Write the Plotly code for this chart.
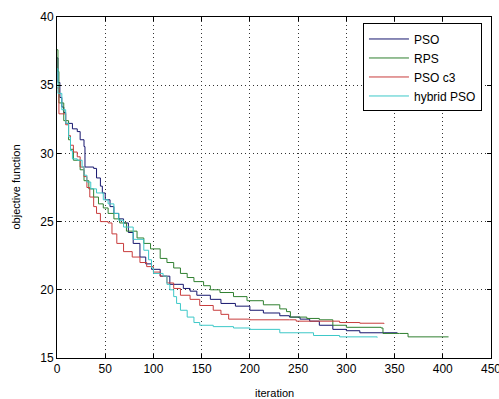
import plotly.graph_objects as go

# ---- data ----
pso_iter = [0, 1, 3, 5, 7, 9, 16, 21, 24, 28, 29, 38, 41, 45, 47, 50, 55, 59, 64, 69, 74, 79, 86, 92, 98,
            107, 117, 131, 138, 145, 159, 170, 185, 200, 214, 231, 241, 252, 262, 272, 286, 300, 314, 340, 353]
pso_val = [37.0, 35.2, 34.1, 33.4, 33.0, 32.2, 31.8, 31.6, 31.0, 30.5, 29.0, 28.9, 28.2, 27.6, 27.1, 26.6,
           26.1, 25.6, 25.2, 24.9, 24.2, 23.4, 22.4, 21.9, 21.5, 21.0, 20.4, 20.1, 19.9, 19.6, 19.3, 19.0,
           18.8, 18.5, 18.3, 18.1, 18.0, 17.85, 17.7, 17.4, 17.1, 17.0, 16.85, 16.85, 16.85]

rps_iter = [0, 1, 2, 7, 12, 14, 17, 24, 28, 33, 38, 43, 48, 53, 59, 65, 72, 83, 90, 97, 107, 114, 121, 128,
            135, 142, 152, 159, 169, 183, 197, 214, 231, 238, 242, 259, 272, 286, 300, 336, 338, 355, 364, 406]
rps_val = [37.6, 36.0, 33.7, 32.4, 31.0, 30.3, 29.5, 28.8, 28.0, 27.4, 26.8, 26.3, 26.0, 25.6, 25.2, 24.9,
           24.3, 23.8, 23.4, 23.0, 22.3, 22.0, 21.6, 21.2, 20.9, 20.6, 20.3, 20.0, 19.8, 19.5, 19.2, 18.9,
           18.6, 18.4, 18.0, 17.9, 17.8, 17.4, 17.25, 17.2, 16.8, 16.8, 16.55, 16.55]

c3_iter = [0, 2, 9, 12, 14, 17, 21, 24, 28, 31, 34, 38, 41, 45, 53, 57, 62, 69, 78, 86, 93, 100, 107, 114,
           121, 128, 138, 148, 162, 170, 178, 200, 241, 248, 293, 314, 339]
c3_val = [34.8, 32.9, 32.1, 31.3, 30.6, 30.1, 29.75, 29.0, 28.3, 27.5, 26.8, 26.1, 25.6, 25.0, 24.9, 24.1,
          23.4, 22.8, 22.4, 22.0, 21.7, 21.3, 21.0, 20.5, 20.1, 19.6, 19.3, 18.85, 18.5, 18.2, 17.85, 17.8,
          17.8, 17.7, 17.6, 17.55, 17.5]

hyb_iter = [0, 1, 5, 9, 12, 14, 16, 21, 26, 28, 31, 35, 41, 48, 53, 59, 64, 69, 79, 90, 95, 98, 100, 110,
            114, 117, 121, 124, 128, 135, 142, 148, 162, 183, 200, 231, 266, 293, 332]
hyb_val = [36.2, 34.4, 33.2, 32.2, 31.2, 30.2, 29.6, 29.5, 29.0, 28.4, 27.9, 27.4, 27.1, 26.6, 26.3, 25.6,
           25.1, 24.6, 23.7, 22.9, 22.2, 21.6, 21.2, 21.0, 20.4, 20.0, 19.5, 19.0, 18.5, 18.0, 17.6, 17.4,
           17.3, 17.2, 17.1, 16.85, 16.65, 16.55, 16.5]

x_ticks = [0, 50, 100, 150, 200, 250, 300, 350, 400, 450]
y_ticks = [15, 20, 25, 30, 35, 40]
x_title = "iteration"
y_title = "objective function"

series = [
    ("PSO", pso_iter, pso_val, "#16166e"),
    ("RPS", rps_iter, rps_val, "#2f7f2f"),
    ("PSO c3", c3_iter, c3_val, "#c83c3c"),
    ("hybrid PSO", hyb_iter, hyb_val, "#3cc8c8"),
]

fig = go.Figure()
for name, xs, ys, col in series:
    fig.add_trace(go.Scatter(x=xs, y=ys, name=name, mode="lines", line_shape="hv",
                             line=dict(color=col, width=1)))

FONT = "Liberation Sans, Arial, sans-serif"
axis_common = dict(
    showline=True, linecolor="black", linewidth=1, mirror="ticks",
    ticks="inside", ticklen=4, tickcolor="black",
    showgrid=True, gridcolor="#333333", gridwidth=1, griddash="1px,3px",
    zeroline=False, tickfont=dict(family=FONT, size=12, color="black"),
    ticklabeloverflow="allow", automargin=False,
)

fig.update_layout(
    width=499, height=399,
    margin=dict(l=57, r=8, t=17, b=41),
    paper_bgcolor="white", plot_bgcolor="white",
    font=dict(family=FONT, size=12, color="black"),
    xaxis=dict(range=[0, 450], tickvals=x_ticks, ticktext=[str(v) for v in x_ticks], **axis_common),
    yaxis=dict(range=[15, 40], tickvals=y_ticks, ticktext=[str(v) for v in y_ticks], **axis_common),
    legend=dict(x=0.705, y=0.981, xanchor="left", yanchor="top",
                bgcolor="white", bordercolor="black", borderwidth=1,
                font=dict(family=FONT, size=12), itemwidth=40, tracegroupgap=0),
    showlegend=True,
    annotations=[
        dict(text=x_title, xref="paper", yref="paper", x=0.5, y=0, yanchor="middle",
             yshift=-35, showarrow=False, font=dict(family=FONT, size=11)),
        dict(text=y_title, xref="paper", yref="paper", x=0, y=0.5, xanchor="center",
             xshift=-42, textangle=-90, showarrow=False, font=dict(family=FONT, size=11)),
    ],
)

fig.write_html("out.html")
